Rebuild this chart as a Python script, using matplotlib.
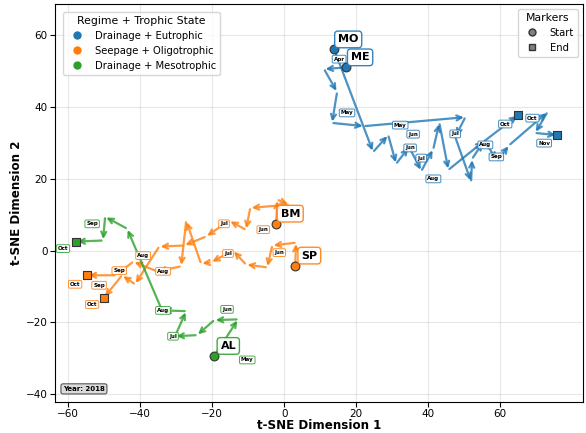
import matplotlib
matplotlib.use('Agg')
from matplotlib import pyplot as plt
from matplotlib.lines import Line2D

# t-SNE coordinates of each lake through the 2018 season
mo_x = [13.9, 24.7, 28.9, 31.1, 34.7, 38.1, 41.4, 43.1, 45.6, 55.6, 59.2, 62.5, 73.1, 69.7, 75.8]
mo_y = [56.1, 27.5, 32.2, 24.2, 28.9, 22.2, 28.3, 35.6, 22.5, 30.6, 25.0, 29.4, 38.6, 32.8, 32.2]
me_x = [17.2, 11.1, 14.7, 13.3, 22.2, 50.3, 47.5, 51.9, 52.2, 55.3, 65.0]
me_y = [51.1, 50.6, 44.2, 35.6, 34.7, 37.2, 31.7, 19.2, 25.6, 30.3, 37.8]
bm_x = [-2.2, -1.9, 1.4, -9.4, -10.6, -15.3, -21.7, -27.8, -34.7, -41.4, -45.0, -50.0]
bm_y = [7.5, 14.2, 12.8, 11.9, 5.8, 8.3, 3.9, 1.4, 1.1, -9.4, -6.9, -13.1]
sp_x = [3.1, 3.3, -3.3, -4.7, -10.6, -14.2, -20.3, -23.1, -27.2, -28.6, -35.3, -41.9, -46.7, -54.7]
sp_y = [-4.2, 2.2, 1.4, -4.7, -3.9, 0.0, -3.3, -3.6, 8.3, -4.4, -5.8, -3.1, -6.9, -6.9]
al_x = [-19.4, -12.8, -19.4, -24.2, -30.3, -27.2, -33.9, -43.6, -49.7, -50.3, -57.8]
al_y = [-29.4, -19.2, -19.4, -23.6, -23.9, -16.9, -16.7, 6.1, 9.4, 2.8, 2.5]

# month tags: index of the sample and its month
mo_tag_idx = [0, 2, 4, 6, 8, 10, 12, 14]
mo_tag_txt = ['Apr', 'May', 'Jun', 'Jul', 'Aug', 'Sep', 'Oct', 'Nov']
me_tag_idx = [1, 3, 4, 6, 9, 10]
me_tag_txt = ['Apr', 'May', 'Jun', 'Jul', 'Aug', 'Oct']
bm_tag_idx = [0, 5, 8, 10, 11]
bm_tag_txt = ['Jun', 'Jul', 'Aug', 'Sep', 'Oct']
sp_tag_idx = [0, 5, 9, 11, 13]
sp_tag_txt = ['Jun', 'Jul', 'Aug', 'Sep', 'Oct']
al_tag_idx = [0, 1, 4, 6, 8, 10]
al_tag_txt = ['May', 'Jun', 'Jul', 'Aug', 'Sep', 'Oct']

groups = ['Drainage + Eutrophic', 'Seepage + Oligotrophic', 'Drainage + Mesotrophic']
group_colors = ['#1f77b4', '#ff7f0e', '#2ca02c']
x_ticks = [-60, -40, -20, 0, 20, 40, 60]

# tag placement (pixels from the sample), kept apart from the data
tag_offsets = {
    'MO': [(13, -10), (12, -10), (1, 1), (-12, 9), (-15, 9), (-1, -4), (-15, 6), (-13, 8)],
    'ME': [(15, -10), (15, -10), (49, 8), (0, -3), (2, 3), (-13, 9)],
    'BM': [(-13, 6), (-5, 3), (-16, 9), (-23, 10), (-12, 7)],
    'SP': [(-16, -13), (-5, 3), (-18, 5), (-14, 9), (-12, 9)],
    'AL': [(33, 4), (-11, -10), (-2, 0), (1, 0), (-13, 7), (-13, 7)],
}

lakes = [
    ('MO', mo_x, mo_y, mo_tag_idx, mo_tag_txt, 0),
    ('ME', me_x, me_y, me_tag_idx, me_tag_txt, 0),
    ('BM', bm_x, bm_y, bm_tag_idx, bm_tag_txt, 1),
    ('SP', sp_x, sp_y, sp_tag_idx, sp_tag_txt, 1),
    ('AL', al_x, al_y, al_tag_idx, al_tag_txt, 2),
]

fig = plt.figure(figsize=(5.86, 4.33), dpi=100)
ax = fig.add_axes([0.094, 0.072, 0.901, 0.919])

for name, x, y, tag_idx, tag_txt, g in lakes:
    c = group_colors[g]
    for i in range(len(x) - 1):
        ax.annotate('', xy=(x[i + 1], y[i + 1]), xytext=(x[i], y[i]),
                    arrowprops=dict(arrowstyle='->', color=c, lw=1.6, alpha=0.8,
                                    shrinkA=1, shrinkB=1, mutation_scale=9),
                    zorder=2)
    ax.scatter(x[0], y[0], marker='o', s=40, color=c, edgecolors='#333333', linewidths=0.8, zorder=5)
    ax.scatter(x[-1], y[-1], marker='s', s=40, color=c, edgecolors='#333333', linewidths=0.8, zorder=5)

    for k, (i, m) in enumerate(zip(tag_idx, tag_txt)):
        dx, dy = tag_offsets[name][k]
        ax.annotate(m, (x[i], y[i]), xytext=(dx, -dy), textcoords='offset pixels',
                    ha='center', va='center', fontsize=4, fontweight='bold',
                    bbox=dict(boxstyle='round,pad=0.25', fc='white', ec=c, lw=0.7, alpha=0.85),
                    zorder=4)

    ax.annotate(name, (x[0], y[0]), xytext=(14, 10), textcoords='offset pixels',
                ha='center', va='center', fontsize=8, fontweight='bold',
                bbox=dict(boxstyle='round,pad=0.3', fc='white', ec=c, lw=1, alpha=0.9),
                zorder=6)

ax.set_xlim(-63.6, 83)
ax.set_ylim(-42.2, 68.8)
ax.set_xticks(x_ticks)
ax.grid(True, alpha=0.3)
ax.tick_params(labelsize=7.5, pad=2)
ax.set_xlabel('t-SNE Dimension 1', fontsize=8.6, fontweight='bold', labelpad=0)
ax.set_ylabel('t-SNE Dimension 2', fontsize=8.6, fontweight='bold', labelpad=2)

group_handles = [Line2D([], [], marker='o', ls='', color=c, markersize=5) for c in group_colors]
leg1 = ax.legend(group_handles, groups, title='Regime + Trophic State', loc='upper left',
                 fontsize=7.2, title_fontsize=7.8, borderaxespad=0.8)
ax.add_artist(leg1)

marker_handles = [Line2D([], [], marker='o', ls='', color='gray', markeredgecolor='#333333', markersize=5),
                  Line2D([], [], marker='s', ls='', color='gray', markeredgecolor='#333333', markersize=5)]
ax.legend(marker_handles, ['Start', 'End'], title='Markers', loc='upper right',
          fontsize=7.2, title_fontsize=7.8)

ax.text(0.015, 0.025, 'Year: 2018', transform=ax.transAxes, fontsize=5, fontweight='bold',
        ha='left', va='bottom',
        bbox=dict(boxstyle='round,pad=0.3', fc='lightgray', ec='#333333', lw=0.8, alpha=0.8))

fig.savefig('out.png', dpi=100)
